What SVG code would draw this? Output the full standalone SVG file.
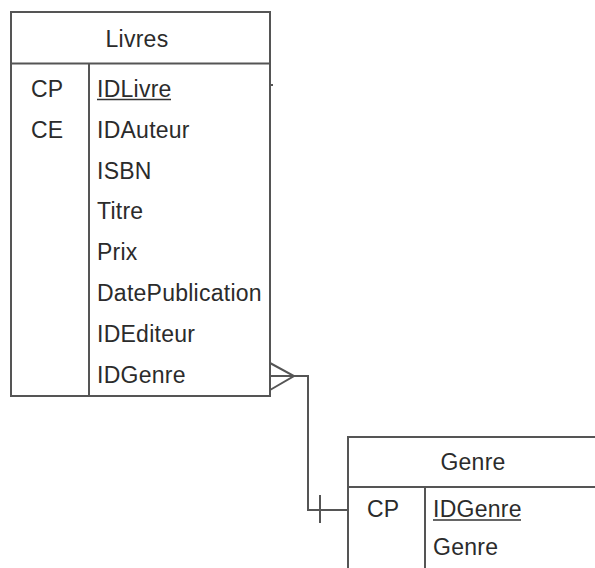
<svg xmlns="http://www.w3.org/2000/svg" width="595" height="568" viewBox="0 0 595 568">
<style>
.box{fill:#fff;stroke:#555;stroke-width:2}
.ln{fill:none;stroke:#555;stroke-width:2}
.t{font-family:"Liberation Sans",Arial,sans-serif;font-size:23px;letter-spacing:0.25px;fill:#2b2b2b}
.c{text-anchor:middle}
.u{stroke:#333;stroke-width:1.5}
</style>
<rect width="595" height="568" fill="#fff"/>
<g id="connectors">
<path class="ln" d="M270,363 L294,376 L270,390 M270,376 L294,376 L308,376 L308,510 L348,510"/>
<path class="ln" d="M320,495 L320,523"/>
<path class="ln" d="M270,85 L273,85" stroke-width="1.5"/>
</g>
<g id="livres">
<rect class="box" x="11" y="12" width="259" height="384"/>
<path class="ln" d="M11,63.5 L270,63.5 M89,63.5 L89,396"/>
<text class="t c" x="137" y="47">Livres</text>
<text class="t" x="31" y="97">CP</text>
<text class="t" x="31" y="138">CE</text>
<text class="t" x="97" y="97">IDLivre</text>
<line class="u" x1="97" y1="99.5" x2="171" y2="99.5"/>
<text class="t" x="97" y="138">IDAuteur</text>
<text class="t" x="97" y="178.5">ISBN</text>
<text class="t" x="97" y="219">Titre</text>
<text class="t" x="97" y="260">Prix</text>
<text class="t" x="97" y="301">DatePublication</text>
<text class="t" x="97" y="341.5">IDEditeur</text>
<text class="t" x="97" y="382.5">IDGenre</text>
</g>
<g id="genre">
<rect class="box" x="348" y="437" width="270" height="160"/>
<path class="ln" d="M348,487 L610,487 M425,487 L425,570"/>
<text class="t c" x="473" y="470">Genre</text>
<text class="t" x="367" y="517">CP</text>
<text class="t" x="433" y="517">IDGenre</text>
<line class="u" x1="433" y1="520" x2="521" y2="520"/>
<text class="t" x="433" y="555">Genre</text>
</g>
</svg>
